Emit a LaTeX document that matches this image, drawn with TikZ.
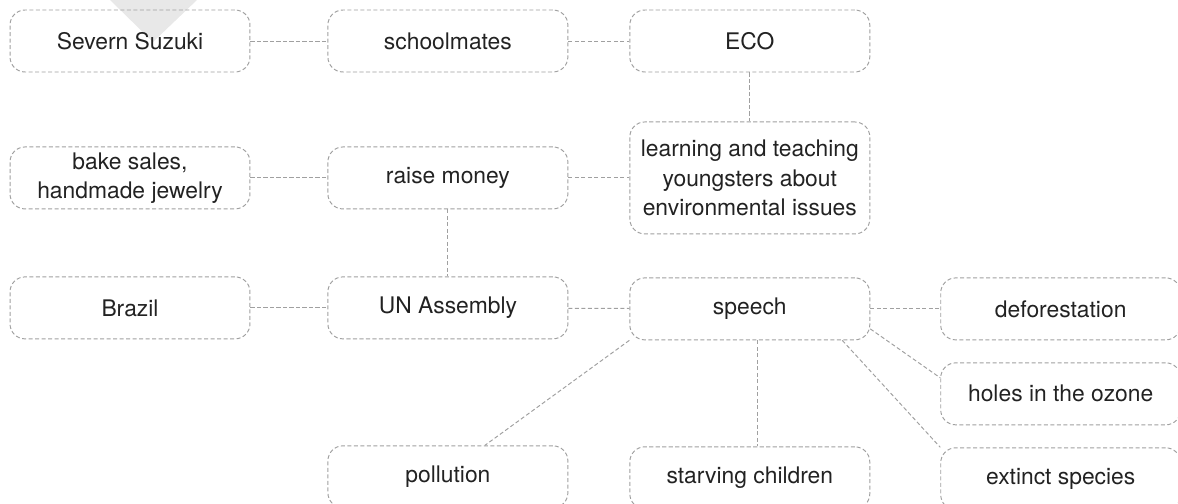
\documentclass[tikz,border=0pt]{standalone}
\usepackage{fontspec}
\setmainfont{TeX Gyre Heros}
\usepackage{tikz}
\usetikzlibrary{positioning}
\usetikzlibrary{calc}

\definecolor{edgegray}{RGB}{160,160,160}
\definecolor{markgray}{RGB}{232,232,232}
\definecolor{textgray}{RGB}{34,34,34}

\begin{document}
\begin{tikzpicture}[
        x=0.02cm, y=-0.02cm,
        topic/.style={draw=edgegray, dash pattern=on 2.3pt off 1.4pt,
                    line width=0.55pt, rounded corners=0.3cm,
                    align=center, minimum width=4.8cm,
                    minimum height=1.24cm, inner sep=2pt,
                    text=textgray, font=\fontsize{13}{16.7}\selectfont},
        link/.style={draw=edgegray, dash pattern=on 2.3pt off 1.4pt,
                    line width=0.55pt}
    ]

    \useasboundingbox (0,0) rectangle (1178,504);

    % grey marker at the top edge
    \fill[markgray] (110,0) -- (197,0) -- (153,42) -- cycle;

    % ------- top row -------
    \node[topic] (suzuki) at (130,41) {Severn Suzuki};
    \node[topic, right=1.54cm of suzuki] (school) {schoolmates};
    \node[topic, right=1.22cm of school] (eco) {ECO};

    % ------- second row -------
    \node[topic, below=0.98cm of eco, minimum height=2.24cm] (learn)
        {learning and teaching\\youngsters about\\environmental issues};
    \node[topic, below=1.48cm of school] (raise) {raise money};
    \node[topic, below=1.48cm of suzuki] (bake) {bake sales,\\handmade jewelry};

    % ------- third row -------
    \node[topic, below=1.34cm of bake] (brazil) {Brazil};
    \node[topic, below=1.34cm of raise] (assembly) {UN Assembly};
    \node[topic, below=0.86cm of learn] (speech) {speech};
    \node[topic, right=1.40cm of speech] (defor) {deforestation};
    \node[topic, below=0.44cm of defor] (ozone) {holes in the ozone};

    % ------- bottom row -------
    \node[topic, below=2.12cm of assembly] (pollution) {pollution};
    \node[topic, below=2.12cm of speech] (starving) {starving children};
    \node[topic, below=0.44cm of ozone] (extinct) {extinct species};

    % links
    \draw[link] (suzuki) -- (school);
    \draw[link] (school) -- (eco);
    \draw[link] (eco) -- (learn);
    \draw[link] (bake) -- (raise);
    \draw[link] (raise) -- (learn);
    \draw[link] (raise) -- (assembly);
    \draw[link] (brazil) -- (assembly);
    \draw[link] (assembly) -- (speech);
    \draw[link] (speech) -- (defor);
    \draw[link] ([yshift=-0.4cm]speech.east) -- ([yshift=0.32cm]ozone.west);
    \draw[link] ([xshift=-0.56cm]speech.south east) -- (extinct.north west);
    \draw[link] ([xshift=0.16cm]speech.south) -- ([xshift=0.16cm]starving.north);
    \draw[link] (speech.south west) -- ([xshift=0.74cm]pollution.north);

\end{tikzpicture}
\end{document}
